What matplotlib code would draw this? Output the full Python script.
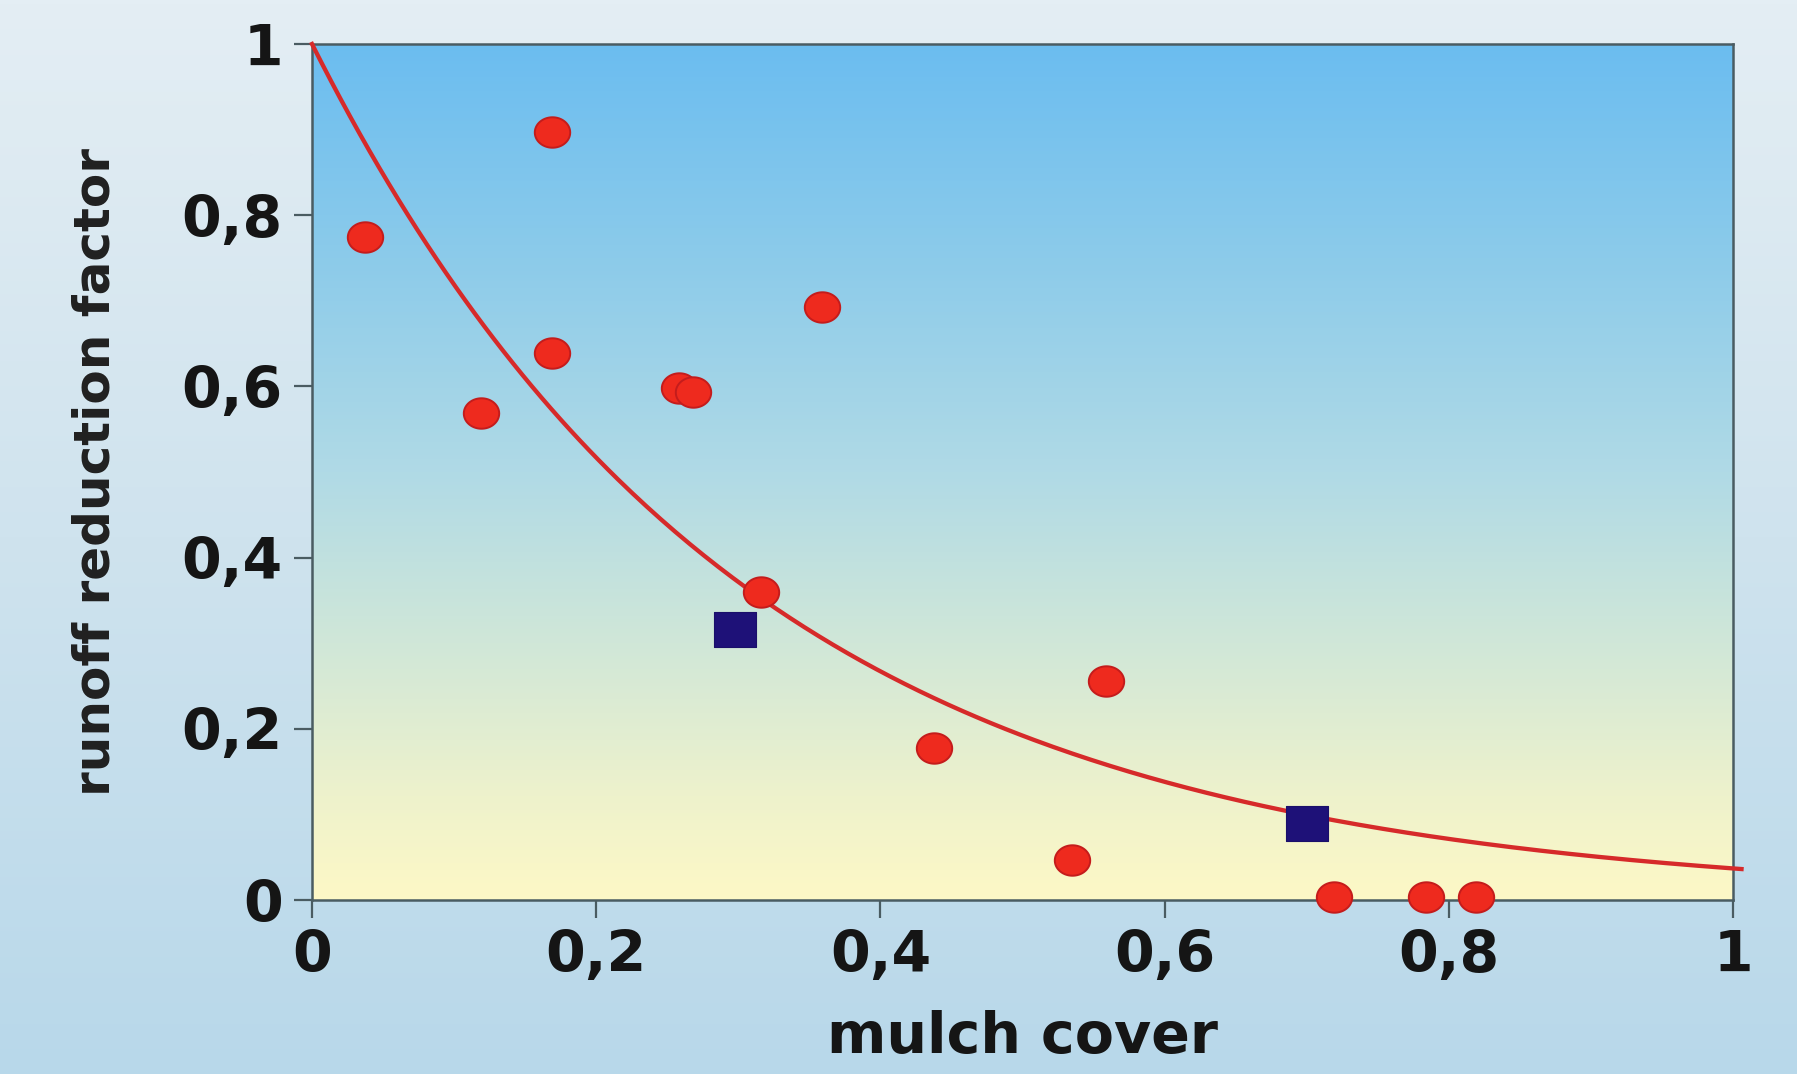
import numpy as np
import matplotlib
matplotlib.use("Agg")
import matplotlib.pyplot as plt
from matplotlib.path import Path
from matplotlib.colors import LinearSegmentedColormap

# ---- data ----
circle_x = [0.037, 0.169, 0.119, 0.169, 0.258, 0.268, 0.359, 0.316, 0.438, 0.559, 0.535, 0.719, 0.784, 0.819]
circle_y = [0.774, 0.897, 0.569, 0.639, 0.598, 0.594, 0.693, 0.360, 0.178, 0.256, 0.047, 0.003, 0.003, 0.003]
square_x = [0.298, 0.700]
square_y = [0.317, 0.090]
curve_rate = 3.3          # fitted curve: y = exp(-rate * x)
x_ticks = [0, 0.2, 0.4, 0.6, 0.8, 1]
y_ticks = [0, 0.2, 0.4, 0.6, 0.8, 1]
x_ticklabels = ["0", "0,2", "0,4", "0,6", "0,8", "1"]
y_ticklabels = ["0", "0,2", "0,4", "0,6", "0,8", "1"]
x_label = "mulch cover"
y_label = "runoff reduction factor"

W, H = 1797, 1074
fig = plt.figure(figsize=(W / 100, H / 100), dpi=100)

# figure background gradient
bg = fig.add_axes([0, 0, 1, 1], zorder=-10)
bg_cmap = LinearSegmentedColormap.from_list("bg", ["#b8d8ea", "#cfe3ee", "#e4eef4"])
bg.imshow(np.linspace(0, 1, 256).reshape(-1, 1), aspect="auto", cmap=bg_cmap,
          origin="lower", extent=[0, 1, 0, 1])
bg.set_axis_off()

ax = fig.add_axes([312 / W, 1 - 900 / H, (1733 - 312) / W, (900 - 44) / H])
ax.set_xlim(0, 1)
ax.set_ylim(0, 1)

ax_cmap = LinearSegmentedColormap.from_list(
    "axg",
    [(0.0, "#fdf8c6"), (0.12, "#eef2cc"), (0.3, "#d0e7d8"), (0.5, "#b0dae6"),
     (0.75, "#8ccbea"), (1.0, "#6bbdf0")])
ax.imshow(np.linspace(0, 1, 256).reshape(-1, 1), aspect="auto", cmap=ax_cmap,
          origin="lower", extent=[0, 1, 0, 1], transform=ax.transAxes, zorder=0)

# curve
xc = np.linspace(0, 1.006, 300)
ax.plot(xc, np.exp(-curve_rate * xc), color="#d62a2a", lw=3.1, zorder=3, clip_on=False)

# elliptical marker
t = np.linspace(0, 2 * np.pi, 60)
ell = Path(np.column_stack([np.cos(t), 0.86 * np.sin(t)]), closed=True)
rect = Path([(-1, -0.84), (1, -0.84), (1, 0.84), (-1, 0.84), (-1, -0.84)], closed=True)

ax.plot(circle_x, circle_y, ls="none", marker=ell, markersize=25.5,
        markerfacecolor="#ee2a1e", markeredgecolor="#c41c1c", markeredgewidth=1.4,
        zorder=4, clip_on=False)
ax.plot(square_x, square_y, ls="none", marker=rect, markersize=30,
        markerfacecolor="#1e1178", markeredgecolor="#1a0f6a", markeredgewidth=0.8,
        zorder=4, clip_on=False)

for s in ax.spines.values():
    s.set_color("#4a5c62")
    s.set_linewidth(1.8)
    s.set_zorder(2)

ax.set_xticks(x_ticks)
ax.set_xticklabels(x_ticklabels)
ax.set_yticks(y_ticks)
ax.set_yticklabels(y_ticklabels)
ax.tick_params(direction="out", length=13, width=1.6, color="#4a5c62",
               labelsize=41, pad=8)
for lab in ax.get_xticklabels() + ax.get_yticklabels():
    lab.set_fontweight("bold")
    lab.set_color("#151515")
    lab.set_family("DejaVu Sans")

fig.text((312 + 1733) / 2 / W, 1 - 1038 / H, x_label, ha="center", va="center",
         fontsize=41, fontweight="bold", color="#151515", family="DejaVu Sans")
fig.text(96 / W, 1 - 472 / H, y_label, ha="center", va="center", rotation=90,
         fontsize=36, fontweight="bold", color="#202020", family="DejaVu Sans")

fig.savefig("out.png", dpi=100)
